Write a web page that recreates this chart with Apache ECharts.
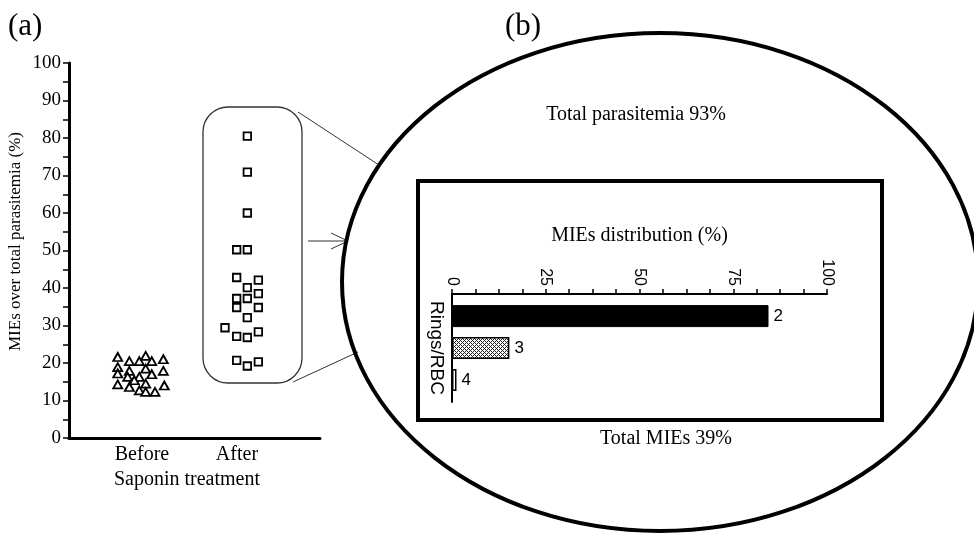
<!DOCTYPE html>
<html>
<head>
<meta charset="utf-8">
<script src="https://cdn.jsdelivr.net/npm/echarts@6/dist/echarts.min.js"></script>
<style>
  html, body { margin: 0; padding: 0; background: #fff; }
  #chart { width: 974px; height: 534px; }
</style>
</head>
<body>
<div id="chart"></div>
<script>
  // (a) MIEs over total parasitemia, before / after saponin
  var groupNames = ['Before', 'After'];
  var groupPos = [1, 2];
  // [x position (group + jitter), %]
  var beforePoints = [
    [0.745, 21.6], [0.867, 20.5], [0.972, 20.5], [1.039, 21.9], [1.103, 20.5], [1.225, 21.0],
    [0.745, 18.9], [0.867, 17.9], [1.039, 18.5], [0.745, 17.2], [1.225, 17.9],
    [0.850, 16.3], [1.103, 17.0], [0.972, 16.3], [0.919, 15.4],
    [0.745, 14.3], [0.867, 13.6], [1.039, 14.5], [1.235, 14.0], [0.972, 12.7], [1.039, 12.3], [1.137, 12.3]
  ];
  var afterPoints = [
    [2.109, 80.5], [2.109, 70.9], [2.109, 60.0], [1.997, 50.2], [2.109, 50.2],
    [1.997, 42.8], [2.225, 42.1], [2.109, 40.1], [2.225, 38.5], [1.997, 37.2], [2.109, 37.2],
    [1.997, 34.8], [2.225, 34.8], [2.109, 32.1], [1.874, 29.4], [1.997, 27.1], [2.109, 26.8],
    [2.225, 28.3], [1.997, 20.7], [2.109, 19.2], [2.225, 20.3]
  ];
  var leftLabelStep = 10;

  // (b) MIEs distribution (%)
  var distCategories = ['Rings/RBC'];
  var distValues = [84.4, 15.3, 1.2];
  var distTags = ['2', '3', '4'];
  var distLabelStep = 25;

  var serif = 'Liberation Serif';
  var sans = 'Liberation Sans';

  // small crosshatch tile for the middle bar
  function hatch() {
    var c = document.createElement('canvas');
    c.width = 4; c.height = 4;
    var ctx = c.getContext('2d');
    ctx.fillStyle = '#fff';
    ctx.fillRect(0, 0, 4, 4);
    ctx.fillStyle = '#222';
    [[0, 0], [1, 1], [2, 2], [3, 3], [1, 3], [3, 1]].forEach(function (p) {
      ctx.fillRect(p[0], p[1], 1, 1);
    });
    return c;
  }

  var barStyles = [
    { color: '#000', borderColor: '#000', borderWidth: 1 },
    { color: { image: hatch(), repeat: 'repeat' }, borderColor: '#000', borderWidth: 1.5 },
    { color: '#fff', borderColor: '#000', borderWidth: 1.5 }
  ];

  var chart = echarts.init(document.getElementById('chart'));

  var option = {
    animation: false,
    backgroundColor: '#fff',
    grid: [
      { left: 69, top: 63, width: 251, height: 375, outerBoundsMode: 'none' },
      { left: 452, top: 294, width: 375, height: 108, outerBoundsMode: 'none' }
    ],
    xAxis: [
      {
        gridIndex: 0,
        type: 'value',
        min: 0.232,
        max: 2.874,
        axisLine: { show: true, lineStyle: { color: '#000', width: 3 } },
        axisTick: { show: false },
        splitLine: { show: false },
        axisLabel: {
          customValues: groupPos,
          formatter: function (v) { return groupNames[Math.round(v) - 1]; },
          margin: 7,
          color: '#000',
          fontFamily: serif,
          fontSize: 20
        },
        name: 'Saponin treatment',
        nameLocation: 'middle',
        nameGap: 29,
        nameTextStyle: { color: '#000', fontFamily: serif, fontSize: 20, padding: [0, 15, 0, 0] }
      },
      {
        gridIndex: 1,
        type: 'value',
        position: 'top',
        min: 0,
        max: 100,
        interval: 6.25,
        axisLine: { show: true, lineStyle: { color: '#000', width: 2 } },
        axisTick: { show: true, length: 5, lineStyle: { color: '#000', width: 1.5 } },
        splitLine: { show: false },
        axisLabel: {
          show: true,
          rotate: 90,
          margin: 8,
          color: '#000',
          fontFamily: sans,
          fontSize: 16,
          formatter: function (v) { return v % distLabelStep === 0 ? String(v) : ''; }
        },
        name: 'MIEs distribution (%)',
        nameLocation: 'middle',
        nameGap: 48,
        nameTextStyle: { color: '#000', fontFamily: serif, fontSize: 20 }
      }
    ],
    yAxis: [
      {
        gridIndex: 0,
        type: 'value',
        min: 0,
        max: 100,
        interval: 5,
        axisLine: { show: true, lineStyle: { color: '#000', width: 3 } },
        axisTick: { show: true, length: 6, lineStyle: { color: '#000', width: 1.5 } },
        splitLine: { show: false },
        axisLabel: {
          margin: 8,
          color: '#000',
          fontFamily: serif,
          fontSize: 19,
          formatter: function (v) { return v % leftLabelStep === 0 ? String(v) : ''; }
        },
        name: 'MIEs over total parasitemia (%)',
        nameLocation: 'middle',
        nameGap: 45,
        nameTextStyle: { color: '#000', fontFamily: serif, fontSize: 17, padding: [0, 0, 0, 18] }
      },
      {
        gridIndex: 1,
        type: 'category',
        data: distCategories,
        inverse: true,
        axisLine: { show: true, lineStyle: { color: '#000', width: 2 } },
        axisTick: { show: false },
        axisLabel: {
          rotate: -90,
          margin: 6,
          color: '#000',
          fontFamily: sans,
          fontSize: 19
        }
      }
    ],
    series: [
      {
        name: 'Before',
        type: 'scatter',
        xAxisIndex: 0,
        yAxisIndex: 0,
        symbol: 'triangle',
        symbolSize: [9, 8],
        data: beforePoints,
        itemStyle: { color: '#fff', borderColor: '#000', borderWidth: 1.8, opacity: 1 }
      },
      {
        name: 'After',
        type: 'scatter',
        xAxisIndex: 0,
        yAxisIndex: 0,
        symbol: 'rect',
        symbolSize: 7.5,
        data: afterPoints,
        itemStyle: { color: '#fff', borderColor: '#000', borderWidth: 1.8, opacity: 1 }
      }
    ].concat(distValues.map(function (v, i) {
      return {
        type: 'bar',
        xAxisIndex: 1,
        yAxisIndex: 1,
        barWidth: 22,
        barGap: '45%',
        data: [v],
        itemStyle: barStyles[i],
        label: {
          show: true,
          position: 'right',
          distance: 5,
          color: '#000',
          fontFamily: sans,
          fontSize: 17,
          formatter: function () { return distTags[i]; }
        }
      };
    })),
    graphic: [
      { type: 'text', left: 8, top: 11, style: { text: '(a)', font: '31px ' + serif, fill: '#000' } },
      { type: 'text', left: 505, top: 11, style: { text: '(b)', font: '31px ' + serif, fill: '#000' } },
      {
        type: 'rect', shape: { x: 203, y: 107, width: 99, height: 276, r: 25 },
        style: { fill: 'none', stroke: '#333', lineWidth: 1.3 }
      },
      { type: 'line', shape: { x1: 298, y1: 112, x2: 379, y2: 165 }, style: { stroke: '#333', lineWidth: 1 } },
      { type: 'line', shape: { x1: 293, y1: 382, x2: 358, y2: 352 }, style: { stroke: '#333', lineWidth: 1 } },
      { type: 'line', shape: { x1: 308, y1: 241, x2: 348, y2: 241 }, style: { stroke: '#333', lineWidth: 1 } },
      {
        type: 'polyline', shape: { points: [[331, 233], [348, 241], [331, 249]] },
        style: { fill: 'none', stroke: '#333', lineWidth: 1 }
      },
      {
        type: 'ellipse', shape: { cx: 660, cy: 282, rx: 318, ry: 249 },
        style: { fill: 'none', stroke: '#000', lineWidth: 4 }
      },
      {
        type: 'rect', shape: { x: 418, y: 181, width: 464, height: 239 },
        style: { fill: 'none', stroke: '#000', lineWidth: 4 }
      },
      {
        type: 'text', x: 636, y: 115,
        style: { text: 'Total parasitemia 93%', font: '20px ' + serif, fill: '#000', align: 'center', verticalAlign: 'middle' }
      },
      {
        type: 'text', x: 666, y: 439,
        style: { text: 'Total MIEs 39%', font: '20px ' + serif, fill: '#000', align: 'center', verticalAlign: 'middle' }
      }
    ]
  };

  chart.setOption(option);
</script>
</body>
</html>
